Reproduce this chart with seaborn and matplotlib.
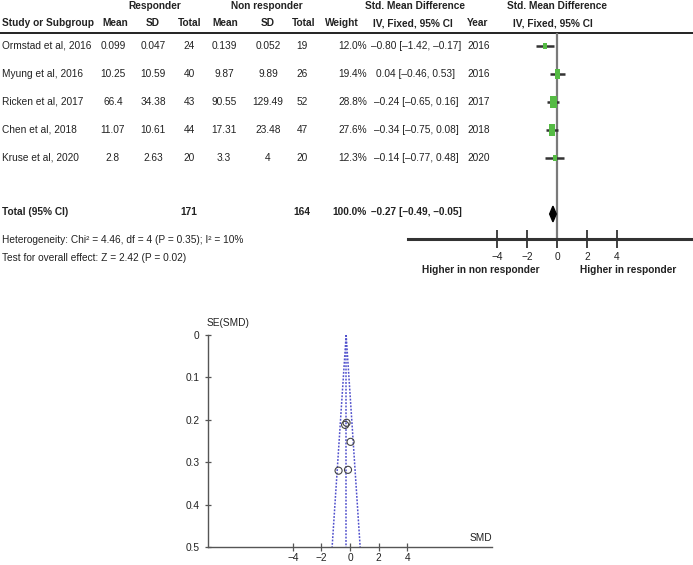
import matplotlib
matplotlib.use("Agg")
import matplotlib.pyplot as plt
import seaborn as sns
import pandas as pd

# study data
studies = ["Ormstad et al, 2016", "Myung et al, 2016", "Ricken et al, 2017",
           "Chen et al, 2018", "Kruse et al, 2020"]
resp_mean = ["0.099", "10.25", "66.4", "11.07", "2.8"]
resp_sd = ["0.047", "10.59", "34.38", "10.61", "2.63"]
resp_n = [24, 40, 43, 44, 20]
nonresp_mean = ["0.139", "9.87", "90.55", "17.31", "3.3"]
nonresp_sd = ["0.052", "9.89", "129.49", "23.48", "4"]
nonresp_n = [19, 26, 52, 47, 20]
weight = [12.0, 19.4, 28.8, 27.6, 12.3]
smd = [-0.80, 0.04, -0.24, -0.34, -0.14]
ci_low = [-1.42, -0.46, -0.65, -0.75, -0.77]
ci_high = [-0.17, 0.53, 0.16, 0.08, 0.48]
year = [2016, 2016, 2017, 2018, 2020]

total_resp = 171
total_nonresp = 164
total_smd = -0.27
total_low = -0.49
total_high = -0.05

forest_ticks = [-4, -2, 0, 2, 4]

# funnel plot points (SE)
funnel_se = [0.32, 0.252, 0.207, 0.212, 0.318]
funnel_lim_se = [0.0, 0.5]
funnel_left = [-0.27, -1.25]
funnel_right = [-0.27, 0.71]
funnel_yticks = [0, 0.1, 0.2, 0.3, 0.4, 0.5]

sns.set_theme(style="white")
plt.rcParams["font.family"] = ["Liberation Sans", "DejaVu Sans"]

W, H = 693, 565
fig = plt.figure(figsize=(W / 100, H / 100), dpi=100)
fs = 7.3
dark = "#222222"

# background axes in pixel units for the table text
bg = fig.add_axes([0, 0, 1, 1])
bg.set_xlim(0, W)
bg.set_ylim(H, 0)
bg.axis("off")


def txt(x, y, s, ha="center", bold=False, **kw):
    bg.text(x, y, s, ha=ha, va="center", fontsize=fs, color=dark,
            fontweight="bold" if bold else "normal", **kw)


# headers
txt(155, 6, "Responder", bold=True)
txt(267, 6, "Non responder", bold=True)
txt(415, 6, "Std. Mean Difference", bold=True)
txt(557, 6, "Std. Mean Difference", bold=True)
txt(2, 23, "Study or Subgroup", ha="left", bold=True)
for x, s in [(115, "Mean"), (153, "SD"), (190, "Total"), (225, "Mean"),
             (268, "SD"), (304, "Total"), (342, "Weight"),
             (413, "IV, Fixed, 95% CI"), (478, "Year"), (553, "IV, Fixed, 95% CI")]:
    txt(x, 23, s, bold=True)
bg.plot([0, W], [33, 33], color=dark, lw=1.4)


def fmt(v):
    return f"{v:.2f}".replace("-", "\u2013")


row_y = [46 + 28 * i for i in range(len(studies))]
for i, y in enumerate(row_y):
    txt(2, y, studies[i], ha="left")
    txt(113, y, resp_mean[i])
    txt(153, y, resp_sd[i])
    txt(189, y, str(resp_n[i]))
    txt(224, y, nonresp_mean[i])
    txt(268, y, nonresp_sd[i])
    txt(302, y, str(nonresp_n[i]))
    txt(367, y, f"{weight[i]:.1f}%", ha="right")
    txt(416, y, f"{fmt(smd[i])} [{fmt(ci_low[i])}, {fmt(ci_high[i])}]")
    txt(479, y, str(year[i]))

ty = 212
txt(2, ty, "Total (95% CI)", ha="left", bold=True)
txt(189, ty, str(total_resp), bold=True)
txt(302, ty, str(total_nonresp), bold=True)
txt(367, ty, "100.0%", ha="right", bold=True)
txt(371, ty, f"{fmt(total_smd)} [{fmt(total_low)}, {fmt(total_high)}]",
    ha="left", bold=True)
txt(2, 240, "Heterogeneity: Chi\u00b2 = 4.46, df = 4 (P = 0.35); I\u00b2 = 10%", ha="left")
txt(2, 258, "Test for overall effect: Z = 2.42 (P = 0.02)", ha="left")

# forest axes: x 408..693 px, y 33..239 px
fx0, fx1, fy0, fy1 = 408, 693, 33, 239
ax = fig.add_axes([fx0 / W, 1 - fy1 / H, (fx1 - fx0) / W, (fy1 - fy0) / H])
ax.set_facecolor("none")
ppu = 15.0
ax.set_xlim((fx0 - 557) / ppu, (fx1 - 557) / ppu)
r_top = (fy0 - 46) / 28
r_bot = (fy1 - 46) / 28
ax.set_ylim(r_bot, r_top)

rows = list(range(len(studies)))
ax.axvline(0, color="#7a7a7a", lw=1.6, zorder=1)
ax.hlines(rows, ci_low, ci_high, color="#333333", lw=1.8, zorder=2)
df = pd.DataFrame({"smd": smd, "row": rows, "weight": weight})
rect = [(-0.27, -0.5), (0.27, -0.5), (0.27, 0.5), (-0.27, 0.5), (-0.27, -0.5)]
sns.scatterplot(data=df, x="smd", y="row", size="weight", sizes=(22, 72),
                size_norm=(12, 28.8), marker=rect, color="#55bb44",
                edgecolor="none", legend=False, ax=ax, zorder=3)
tr = 6
ax.fill([total_low, total_smd, total_high, total_smd],
        [tr, tr - 0.28, tr, tr + 0.28], color="black", zorder=3)

ax.set_xticks(forest_ticks)
ax.set_xticklabels([str(t).replace("-", "\u2212") for t in forest_ticks])
ax.set_yticks([])
for s in ["top", "left", "right"]:
    ax.spines[s].set_visible(False)
ax.spines["bottom"].set_color("#333333")
ax.spines["bottom"].set_linewidth(2.2)
ax.tick_params(axis="x", bottom=True, direction="inout", length=13, width=1.3,
               color="#333333", labelsize=fs, labelcolor=dark, pad=3)
ax.set_xlabel("")
ax.set_ylabel("")

txt(481, 270, "Higher in non responder", bold=True)
txt(628, 270, "Higher in responder", bold=True)

# funnel axes: x 208..492 px, y 335..547 px
gx0, gx1, gy0, gy1 = 208, 492, 335, 547
ax2 = fig.add_axes([gx0 / W, 1 - gy1 / H, (gx1 - gx0) / W, (gy1 - gy0) / H])
ax2.set_facecolor("none")
ax2.set_xlim(-9.93, 9.93)
ax2.set_ylim(0.5, 0)
blue = "#5050cc"
ax2.plot(funnel_left, funnel_lim_se, ls=(0, (1.2, 1.0)), color=blue, lw=1.1)
ax2.plot(funnel_right, funnel_lim_se, ls=(0, (1.2, 1.0)), color=blue, lw=1.1)
ax2.plot([funnel_left[0], funnel_left[0]], funnel_lim_se, ls=(0, (1.2, 1.0)),
         color=blue, lw=1.1)
fdf = pd.DataFrame({"smd": smd, "se": funnel_se})
sns.scatterplot(data=fdf, x="smd", y="se", marker="o", s=26,
                facecolor="none", edgecolor="#444444", linewidth=0.8, ax=ax2,
                zorder=3)
ax2.set_xticks(forest_ticks)
ax2.set_xticklabels([str(t).replace("-", "\u2212") for t in forest_ticks])
ax2.set_yticks(funnel_yticks)
ax2.set_yticklabels(["0", "0.1", "0.2", "0.3", "0.4", "0.5"])
for s in ["top", "right"]:
    ax2.spines[s].set_visible(False)
for s in ["left", "bottom"]:
    ax2.spines[s].set_color("#555555")
    ax2.spines[s].set_linewidth(1.0)
ax2.tick_params(axis="x", bottom=True, direction="inout", length=6, width=0.9,
                color="#555555", labelsize=fs, labelcolor=dark, pad=1)
ax2.tick_params(axis="y", left=True, direction="inout", length=4, width=0.9,
                color="#555555", labelsize=fs, labelcolor=dark, pad=4)
ax2.set_xlabel("")
ax2.set_ylabel("")

txt(207, 323, "SE(SMD)", ha="left")
txt(492, 538, "SMD", ha="right")

fig.savefig("out.png", dpi=100)
